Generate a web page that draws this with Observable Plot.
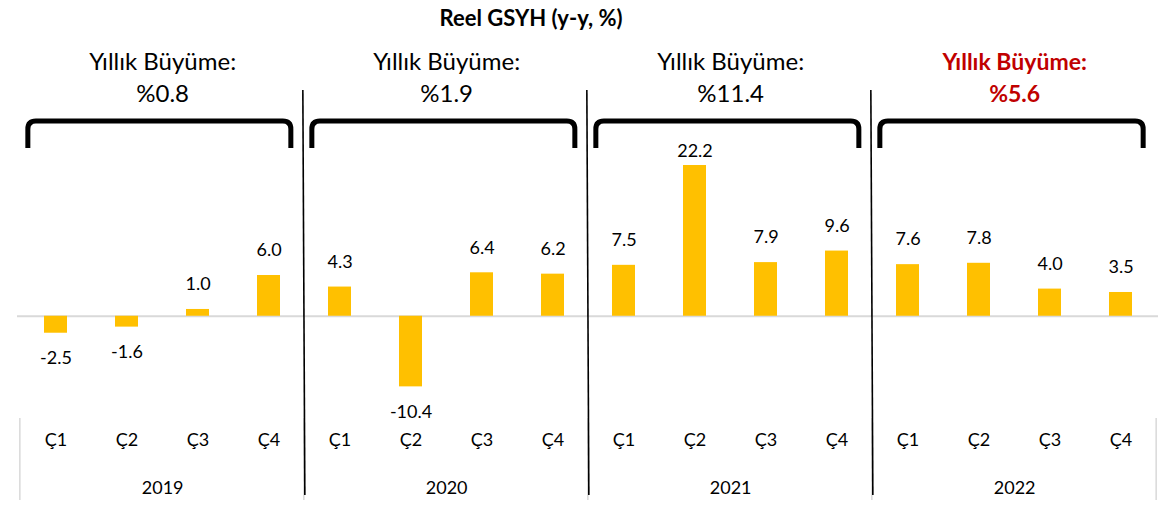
<!DOCTYPE html>
<html><head><meta charset="utf-8">
<script src="https://cdn.jsdelivr.net/npm/d3@7"></script>
<script src="https://cdn.jsdelivr.net/npm/@observablehq/plot@0.6"></script>
<style>body{margin:0;background:#fff}</style>
</head><body><div id="chart"></div>
<script>
const title = "Reel GSYH (y-y, %)";
const years = ["2019", "2020", "2021", "2022"];
const quarters = ["Ç1", "Ç2", "Ç3", "Ç4"];
const growth = [-2.5, -1.6, 1.0, 6.0, 4.3, -10.4, 6.4, 6.2, 7.5, 22.2, 7.9, 9.6, 7.6, 7.8, 4.0, 3.5];
const annualLabel = "Yıllık Büyüme:";
const annualGrowth = ["%0.8", "%1.9", "%11.4", "%5.6"];
const highlightYear = "2022";

const W = 1158, H = 505, mL = 17, mR = 0, mT = 146, mB = 84;
const data = growth.map((v, i) => {
  const year = years[Math.floor(i / 4)], q = quarters[i % 4];
  return {year, q, key: year + "-" + q, v};
});
const keys = data.map(d => d.key);
const step = (W - mL - mR) / keys.length;
const yearRows = years.map((y, i) => ({
  year: y, growth: annualGrowth[i],
  mid: y + "-" + quarters[1]
}));
const normalRows = yearRows.filter(d => d.year !== highlightYear);
const hiRows = yearRows.filter(d => d.year === highlightYear);

const plot = Plot.plot({
  width: W, height: H,
  marginLeft: mL, marginRight: mR, marginTop: mT, marginBottom: mB,
  style: {fontFamily: "Lato, 'Open Sans', sans-serif", fontSize: "18px", background: "#fff", overflow: "visible"},
  x: {domain: keys, paddingInner: 0.68, paddingOuter: 0.34, axis: null},
  y: {domain: [-15.5, 25], axis: null},
  marks: [
    Plot.ruleY([0], {stroke: "#d9d9d9", strokeWidth: 2}),
    Plot.barY(data, {x: "key", y: "v", fill: "#FFC000"}),
    Plot.text(data.filter(d => d.v >= 0 && d.v < 20), {x: "key", y: "v", text: d => d.v.toFixed(1), dy: -25, fill: "#000", fontSize: 18}),
    Plot.text(data.filter(d => d.v >= 20), {x: "key", y: "v", text: d => d.v.toFixed(1), dy: -14, fill: "#000", fontSize: 18}),
    Plot.text(data.filter(d => d.v < 0), {x: "key", y: "v", text: d => d.v.toFixed(1), dy: 25, fill: "#000", fontSize: 18}),
    Plot.text(data, {x: "key", text: "q", frameAnchor: "bottom", lineAnchor: "middle", dy: 19, fill: "#000", fontSize: 18}),
    Plot.text(yearRows, {x: "mid", text: "year", frameAnchor: "bottom", lineAnchor: "middle", dx: step / 2, dy: 67, fill: "#000", fontSize: 18}),
    Plot.text(normalRows, {x: "mid", text: () => annualLabel, frameAnchor: "top", lineAnchor: "middle", dx: step / 2, dy: -84, fill: "#000", fontSize: 24}),
    Plot.text(normalRows, {x: "mid", text: "growth", frameAnchor: "top", lineAnchor: "middle", dx: step / 2, dy: -52, fill: "#000", fontSize: 24}),
    Plot.text(hiRows, {x: "mid", text: () => annualLabel, frameAnchor: "top", lineAnchor: "middle", dx: step / 2, dy: -84, fill: "#C00000", fontWeight: "bold", fontSize: 23}),
    Plot.text(hiRows, {x: "mid", text: "growth", frameAnchor: "top", lineAnchor: "middle", dx: step / 2, dy: -52, fill: "#C00000", fontWeight: "bold", fontSize: 23}),
    Plot.text([title], {text: d => d, frameAnchor: "top", lineAnchor: "middle", dx: -57, dy: -128, fontWeight: "bold", fontSize: 22, fill: "#000"})
  ]
});
document.getElementById("chart").appendChild(plot);

// group decorations drawn through the library's x scale
const xs = plot.scale("x");
const bw = xs.bandwidth;
const center = k => xs.apply(k) + bw / 2;
const svg = d3.select(plot);
const deco = svg.append("g");
const bounds = [];
years.forEach((y, i) => {
  bounds.push(center(y + "-" + quarters[0]) - step / 2);
  if (i === years.length - 1) bounds.push(center(y + "-" + quarters[3]) + step / 2);
});
// gray category separators
bounds.forEach(b => {
  deco.append("line").attr("x1", b).attr("x2", b).attr("y1", 418).attr("y2", 500)
    .attr("stroke", "#d9d9d9").attr("stroke-width", 1.5);
});
// black year separators
bounds.slice(1, -1).forEach(b => {
  deco.append("line").attr("x1", b - 1).attr("x2", b + 1).attr("y1", 90).attr("y2", 495)
    .attr("stroke", "#000").attr("stroke-width", 1.6);
});
// brackets
years.forEach((y, i) => {
  const l = bounds[i] + 8, r = bounds[i + 1] - 13, t = 121, b = 148, rr = 8;
  deco.append("path")
    .attr("d", `M${l},${b} L${l},${t + rr} Q${l},${t} ${l + rr},${t} L${r - rr},${t} Q${r},${t} ${r},${t + rr} L${r},${b}`)
    .attr("fill", "none").attr("stroke", "#000").attr("stroke-width", 5).attr("stroke-linejoin", "round");
});
</script>
</body></html>
